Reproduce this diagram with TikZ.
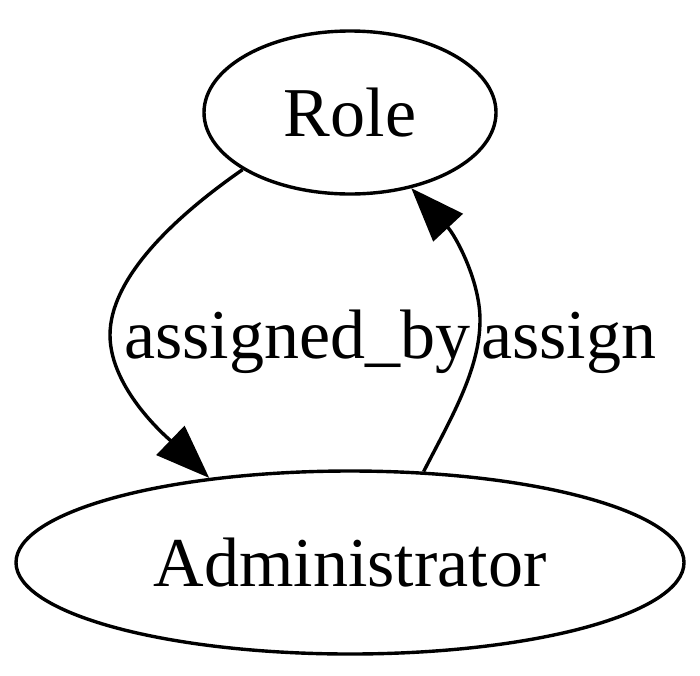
\documentclass[tikz,border=0pt]{standalone}
\usepackage{fontspec}
\setmainfont{Liberation Serif}
\usetikzlibrary{arrows.meta,shapes.geometric}
\begin{document}
\begin{tikzpicture}[x=1pt,y=-1pt,
  nodebox/.style={draw,ellipse,line width=3.4pt,inner sep=0pt,font=\fontsize{70}{84}\selectfont},
  edge/.style={line width=3.4pt,-{Triangle[length=54pt,width=40pt]}},
  elabel/.style={inner sep=0pt,anchor=base west,font=\fontsize{70}{84}\selectfont}]
\useasboundingbox (0,0) rectangle (700,675);
\node[nodebox,minimum width=292pt,minimum height=163pt] (role) at (350,112.5) {Role};
\node[nodebox,minimum width=668pt,minimum height=183pt] (admin) at (350,562.5) {Administrator};
\draw[edge] (role.208.8) .. controls (170,220) and (110,280) .. (110,335)
  .. controls (110,390) and (170,440) .. (admin.149.7);
\draw[edge] (admin.51) .. controls (450,420) and (480,370) .. (480,320)
  .. controls (480,280) and (455,235) .. (role.309);
\node[elabel] (l1) at (124,358) {assigned\_by};
\node[elabel] (l2) at (481,358) {assign};
\end{tikzpicture}
\end{document}
